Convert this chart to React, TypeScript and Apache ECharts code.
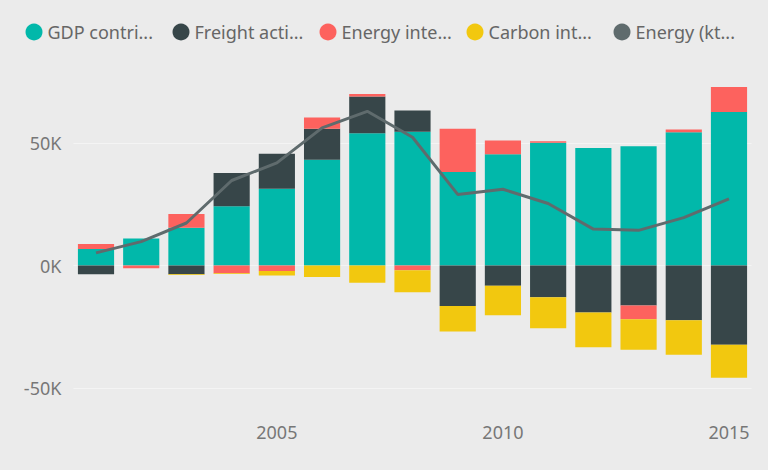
import React, { useEffect, useRef } from "react";
import * as echarts from "echarts";

// Years on the category axis
const years = [
  "2001", "2002", "2003", "2004", "2005", "2006", "2007", "2008",
  "2009", "2010", "2011", "2012", "2013", "2014", "2015",
];

// Decomposition components (kt)
const gdpContribution = [6800, 11100, 15500, 24300, 31400, 43300, 54100, 54700, 38300, 45500, 50200, 48100, 48800, 54500, 62800];
const freightActivity = [-3600, 0, -3600, 13600, 14300, 12700, 15100, 8700, -16600, -8300, -13000, -19200, -16300, -22400, -32400];
const energyIntensity = [2000, -1100, 5600, -3200, -2200, 4600, 1000, -1900, 17700, 5700, 700, 0, -5700, 1200, 10200];
const carbonIntensity = [0, 0, -300, -300, -1900, -4700, -7000, -9000, -10400, -12000, -12700, -14200, -12400, -14100, -13500];

// Total energy line (kt)
const energyTotal = [5200, 9800, 17400, 34800, 42000, 56300, 63100, 52500, 29100, 31200, 25400, 14900, 14400, 19600, 27300];

// Series names and their shortened legend labels
const seriesNames = ["GDP contribution", "Freight activity", "Energy intensity", "Carbon intensity", "Energy (kt)"];
const legendLabels = ["GDP contri...", "Freight acti...", "Energy inte...", "Carbon int...", "Energy (kt..."];

// Value-axis gridlines and labelled ticks
const gridValues = [-50000, 0, 50000];

const colors = ["#01B8AA", "#374649", "#FD625E", "#F2C80F", "#5F6B6D"];
const FONT = "'Noto Sans', 'Open Sans', sans-serif";

export default function App() {
  const ref = useRef<HTMLDivElement>(null);

  useEffect(() => {
    if (!ref.current) return;
    document.body.style.margin = "0";
    document.body.style.background = "#ebebeb";
    const chart = echarts.init(ref.current, null, { renderer: "svg" });

    const barData = [gdpContribution, freightActivity, energyIntensity, carbonIntensity];

    const bars = barData.map((d, i) => ({
      name: seriesNames[i],
      type: "bar",
      stack: "total",
      barCategoryGap: "20%",
      itemStyle: { color: colors[i] },
      data: d,
      z: 2,
    }));

    // One legend per series so every entry sits in its own fixed slot
    const legends = seriesNames.map((name, i) => ({
      left: 20.5 + i * 147,
      top: 18,
      icon: "circle",
      itemWidth: 17,
      itemHeight: 17,
      data: [name],
      formatter: (n: string) => legendLabels[seriesNames.indexOf(n)],
      textStyle: { color: "#666666", fontSize: 18, fontFamily: FONT },
    }));

    chart.setOption({
      animation: false,
      backgroundColor: "#ebebeb",
      textStyle: { fontFamily: FONT },
      legend: legends,
      grid: { left: 73.4, right: 16.4, top: 70, bottom: 57.8, containLabel: false },
      xAxis: {
        type: "category",
        data: years,
        boundaryGap: true,
        axisLine: { show: false },
        axisTick: { show: false },
        axisLabel: {
          color: "#777777",
          fontSize: 18,
          fontFamily: FONT,
          margin: 11,
          interval: (_i: number, v: string) => Number(v) % 5 === 0,
        },
        splitLine: { show: false },
      },
      yAxis: {
        type: "value",
        min: -60000,
        max: 80000,
        interval: 10000,
        axisLine: { show: false },
        axisTick: { show: false },
        splitLine: { show: false },
        axisLabel: {
          color: "#777777",
          fontSize: 18,
          fontFamily: FONT,
          margin: 12,
          formatter: (v: number) => (gridValues.includes(v) ? `${v / 1000}K` : ""),
        },
      },
      series: [
        ...bars,
        {
          name: seriesNames[4],
          type: "line",
          data: energyTotal,
          showSymbol: false,
          symbol: "none",
          lineStyle: { color: colors[4], width: 3 },
          itemStyle: { color: colors[4] },
          z: 5,
          markLine: {
            silent: true,
            symbol: ["none", "none"],
            z: 1,
            label: { show: false },
            lineStyle: { color: "#f4f4f4", width: 1, type: "solid" },
            data: gridValues.map((v) => ({ yAxis: v })),
          },
        },
      ],
    });

    return () => chart.dispose();
  }, []);

  return (
    <div
      ref={ref}
      style={{ position: "fixed", left: 0, top: 0, width: 768, height: 470 }}
    />
  );
}
